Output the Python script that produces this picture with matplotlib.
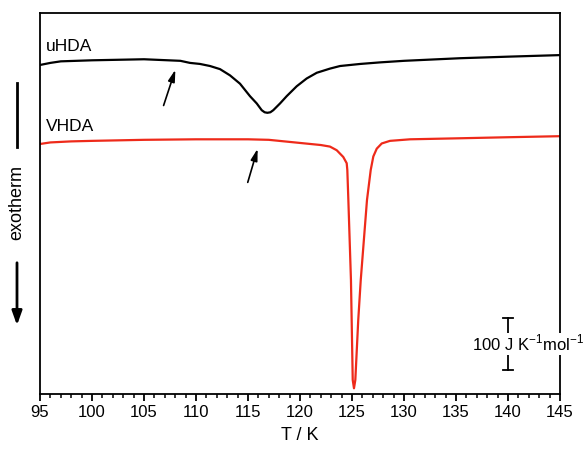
import matplotlib
matplotlib.use("Agg")
import matplotlib.pyplot as plt
from matplotlib.ticker import MultipleLocator

plt.rcParams['font.family'] = ['Liberation Sans', 'DejaVu Sans']

# temperature (K) and heat-flow-like signal (J K^-1 mol^-1, arbitrary offset)
T_uhda = [95.0, 96.0, 97.0, 100.0, 105.0, 108.5, 109.42, 110.38, 111.35, 112.31,
          113.27, 114.23, 115.19, 115.84, 116.32, 116.6, 116.86, 117.15, 117.43,
          118.08, 118.72, 119.68, 120.64, 121.61, 122.88, 123.85, 125.8, 127.7,
          130.0, 135.4, 140.0, 145.0]
cp_uhda = [633, 637, 640, 642, 644, 641, 637, 635, 631, 625,
           613, 597, 573, 559, 546, 542, 541, 542, 546,
           559, 573, 592, 607, 618, 626, 631, 635, 638,
           641, 646, 649, 652]

T_vhda = [95.0, 96.0, 98.0, 100.0, 105.0, 110.0, 115.0, 117.0, 118.0, 120.0, 122.0,
          122.88, 123.53, 124.16, 124.49, 124.55, 124.65, 124.9, 125.07, 125.19,
          125.32, 125.6, 125.84, 126.44, 126.8, 127.05, 127.38, 127.86, 128.65,
          130.58, 135.4, 140.0, 145.0]
cp_vhda = [481, 484, 486, 487, 489, 490, 490, 489, 487, 483, 479,
           476, 469, 456, 444, 431, 373, 219, 27, 11,
           27, 142, 219, 373, 431, 457, 472, 482, 487,
           490, 492, 494, 496]

labels = ["uHDA", "VHDA"]
x_ticks = [95, 100, 105, 110, 115, 120, 125, 130, 135, 140, 145]
scale_value = 100

fig = plt.figure(figsize=(5.88, 4.5), dpi=100)
ax = fig.add_axes([40/588, 1-394/450, 520/588, 381/450])

ax.plot(T_uhda, cp_uhda, color='black', lw=1.6, solid_joinstyle='round')
ax.plot(T_vhda, cp_vhda, color='#ee2a1a', lw=1.6, solid_joinstyle='round')

ax.set_xlim(95, 145)
ax.set_ylim(0, 733)
ax.set_xticks(x_ticks)
ax.xaxis.set_minor_locator(MultipleLocator(1))
ax.set_yticks([])
ax.tick_params(axis='x', which='major', direction='out', length=5, width=1.3,
               labelsize=12, pad=3)
ax.tick_params(axis='x', which='minor', direction='out', length=3, width=1.1)
for s in ax.spines.values():
    s.set_linewidth(1.3)
ax.set_xlabel("T / K", fontsize=13, labelpad=5)

# curve labels
ax.text(95.6, 655, labels[0], fontsize=12.5, ha='left', va='bottom')
ax.text(95.6, 501, labels[1], fontsize=12.5, ha='left', va='bottom')

# arrows marking onset
arrowprops = dict(arrowstyle='-|>,head_length=0.7,head_width=0.2', color='black', lw=1.2)
ax.annotate('', xy=(108.1, 629), xytext=(106.8, 550), arrowprops=arrowprops)
ax.annotate('', xy=(116.0, 477), xytext=(114.9, 402), arrowprops=arrowprops)

# scale bar
xb = 140.0
ax.plot([xb, xb], [146, 118], color='black', lw=1.3, clip_on=False)
ax.plot([xb, xb], [76, 46], color='black', lw=1.3, clip_on=False)
ax.plot([xb-0.45, xb+0.45], [146, 146], color='black', lw=1.3, clip_on=False)
ax.plot([xb-0.45, xb+0.45], [46, 46], color='black', lw=1.3, clip_on=False)
ax.text(141.9, 97, "100 J K$^{\\mathregular{-1}}$mol$^{\\mathregular{-1}}$", fontsize=12,
        ha='center', va='center', zorder=10, clip_on=False,
        bbox=dict(facecolor='white', edgecolor='none', pad=0.5))

# exotherm indicator
xf = 17/588
fig.add_artist(plt.Line2D([xf, xf], [1-83/450, 1-147/450], color='black', lw=2))
fig.text(xf, 1-203/450, "exotherm", rotation=90, ha='center', va='center', fontsize=13)
fig.add_artist(matplotlib.patches.FancyArrowPatch((xf, 1-260/450), (xf, 1-328/450),
               transform=fig.transFigure, arrowstyle='-|>,head_length=0.7,head_width=0.25',
               color='black', lw=2, mutation_scale=12))

fig.savefig("out.png", dpi=100)
